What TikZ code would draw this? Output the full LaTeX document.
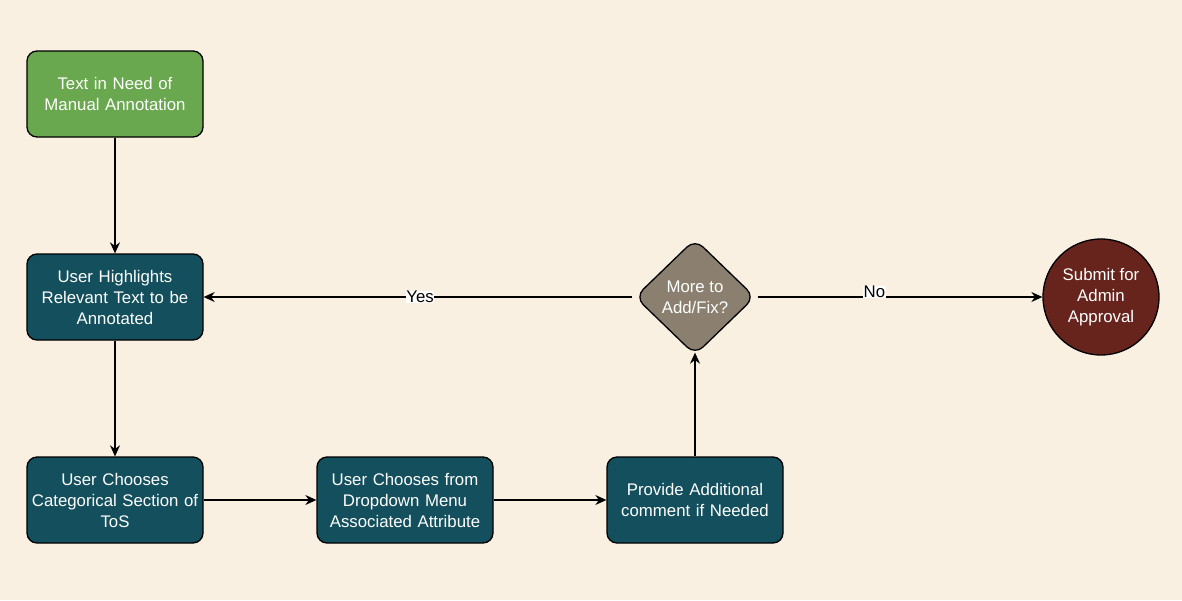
\documentclass[tikz,border=0pt]{standalone}
\usepackage{fontspec}
\setmainfont{Liberation Sans}
\usetikzlibrary{arrows.meta,shapes.geometric}
\definecolor{bg}{HTML}{F9F0E1}
\definecolor{leafgreen}{HTML}{6AA84F}
\definecolor{teal}{HTML}{134F5C}
\definecolor{taupe}{HTML}{8B7F6F}
\definecolor{maroon}{HTML}{66241C}
\begin{document}
\begin{tikzpicture}[x=1pt,y=-1pt,
  font=\fontsize{16.8}{21}\selectfont,
  box/.style={draw=black, line width=1.3pt, rounded corners=10pt, minimum width=174pt, minimum height=86pt, text width=176pt, align=center, text=white, inner sep=0pt},
  decision/.style={diamond, draw=black, line width=1.3pt, rounded corners=11pt, fill=taupe, minimum width=120pt, minimum height=116pt, inner sep=0pt, align=center, text=white},
  terminal/.style={circle, draw=black, line width=1.3pt, fill=maroon, minimum size=116pt, inner sep=0pt, align=center, text=white},
  flow/.style={draw=black, line width=1.3pt, -{Stealth[length=11pt,width=10pt]}},
  lbl/.style={fill=white, inner sep=0.5pt, text=black}]
\fill[bg] (0,0) rectangle (1182,600);
\useasboundingbox (0,0) rectangle (1182,600);
\node[box, fill=leafgreen] (start) at (115,94) {Text in Need of\\Manual Annotation};
\node[box, fill=teal] (highlight) at (115,297) {User Highlights\\Relevant Text to be\\Annotated};
\node[box, fill=teal] (category) at (115,500) {User Chooses\\Categorical Section of\\ToS};
\node[box, fill=teal] (dropdown) at (405,500) {User Chooses from\\Dropdown Menu\\Associated Attribute};
\node[box, fill=teal] (comment) at (695,500) {Provide Additional\\comment if Needed};
\node[decision] (more) at (695,297) {More to\\Add/Fix?};
\node[terminal] (submit) at (1101,297) {Submit for\\Admin\\Approval};
\draw[flow] (start) -- (highlight);
\draw[flow] (highlight) -- (category);
\draw[flow] (category) -- (dropdown);
\draw[flow] (dropdown) -- (comment);
\draw[flow] (comment) -- ([yshift=3pt]more.south);
\draw[flow] ([xshift=-2pt]more.west) -- (highlight.east) node[lbl, pos=0.495] {Yes};
\draw[flow] ([xshift=2pt]more.east) -- (submit.west) node[lbl, pos=0.41, yshift=5pt] {No};
\end{tikzpicture}
\end{document}
